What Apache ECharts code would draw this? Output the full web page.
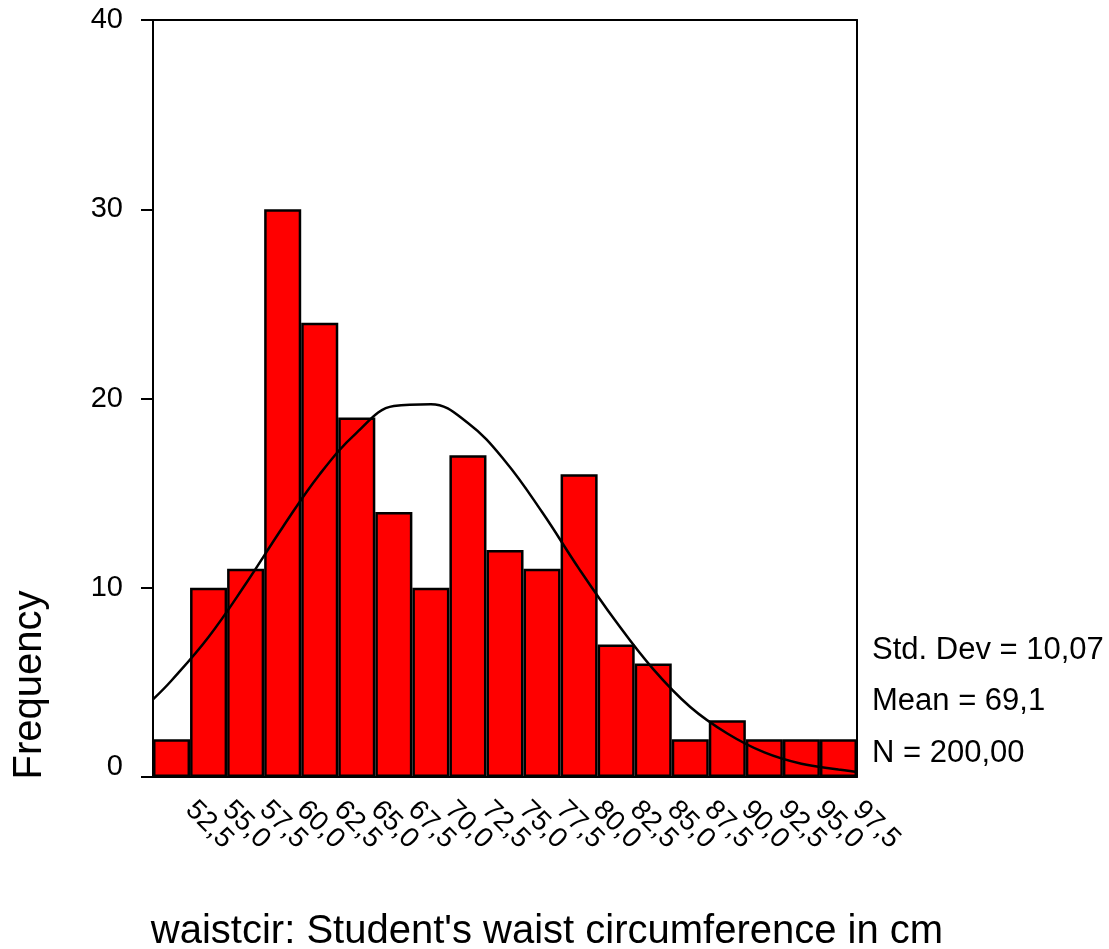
<!DOCTYPE html>
<html><head><meta charset="utf-8">
<script src="https://cdn.jsdelivr.net/npm/echarts@6/dist/echarts.min.js"></script>
<style>html,body{margin:0;padding:0;background:#fff}#c{width:1109px;height:949px}</style>
</head><body><div id="c"></div>
<script>
const categories = ['52,5','55,0','57,5','60,0','62,5','65,0','67,5','70,0','72,5','75,0','77,5','80,0','82,5','85,0','87,5','90,0','92,5','95,0','97,5'];
const frequencies = [2,10,11,30,24,19,14,10,17,12,11,16,7,6,2,3,2,2,2];
const curveX = [51.25,52.5,55,57.5,60,62.5,65,67.5,70,72.5,75,77.5,80,82.5,85,87.5,90,92.5,95,97.5,98.75];
const curveY = [4.1,5.1,7.4,10.2,13.2,16.0,18.2,19.6,19.7,18.7,16.7,14.0,11.0,8.2,5.7,3.7,2.3,1.3,0.7,0.4,0.26];
const yTicks = [0,10,20,30,40];
const statsLines = ['Std. Dev = 10,07','Mean = 69,1','N = 200,00'];
const xTitle = "waistcir: Student's waist circumference in cm";
const yTitle = 'Frequency';

const chart = echarts.init(document.getElementById('c'));
const font = 'Liberation Sans, Arial, sans-serif';
chart.setOption({
  animation:false,
  grid:{left:153,right:252,top:20,bottom:172},
  xAxis:[{
    type:'category', data:categories, position:'bottom',
    axisLine:{lineStyle:{color:'#000',width:2}},
    axisTick:{alignWithLabel:true,length:10,lineStyle:{color:'#000',width:2}},
    axisLabel:{rotate:-45,color:'#000',fontFamily:font,fontSize:28,margin:30,interval:0,align:'left',
      verticalAlign:'bottom',padding:[0,0,0,12]},
    splitLine:{show:false}
  },{
    type:'value', min:51.25, max:98.75, position:'top',
    axisLine:{show:true,onZero:false,lineStyle:{color:'#000',width:2}},
    axisTick:{show:false}, axisLabel:{show:false}, splitLine:{show:false}
  }],
  yAxis:[{
    type:'value', min:yTicks[0], max:yTicks[yTicks.length-1], interval:10,
    axisLine:{show:true,lineStyle:{color:'#000',width:2}},
    axisTick:{show:true,length:12,lineStyle:{color:'#000',width:2}},
    axisLabel:{color:'#000',fontFamily:font,fontSize:29,margin:30,
      formatter:v=> v===0 ? '{z|0}' : String(v),
      rich:{z:{fontFamily:font,fontSize:29,color:'#000',padding:[0,0,20,0]}}},
    splitLine:{show:false}
  },{
    type:'value', min:0, max:40, position:'right',
    axisLine:{show:true,lineStyle:{color:'#000',width:2}},
    axisTick:{show:false}, axisLabel:{show:false}, splitLine:{show:false}
  }],
  series:[{
    type:'bar', xAxisIndex:0, yAxisIndex:0, data:frequencies,
    barWidth:'100%', barGap:'0%', barCategoryGap:'0%',
    itemStyle:{color:'#ff0000',borderColor:'#000',borderWidth:2.5}
  },{
    type:'line', xAxisIndex:1, yAxisIndex:0, showSymbol:false, smooth:0.4,
    data:curveX.map((x,i)=>[x,curveY[i]]),
    lineStyle:{color:'#000',width:2.5}, z:5
  }],
  graphic:[
    {type:'text',x:30,y:685,rotation:Math.PI/2,style:{text:yTitle,fontFamily:font,fontSize:40,fill:'#000',textAlign:'center',textVerticalAlign:'middle'}},
    {type:'text',x:547,y:932,style:{text:xTitle,fontFamily:font,fontSize:40,fill:'#000',textAlign:'center',textVerticalAlign:'middle'}},
    {type:'text',x:872,y:650,style:{text:statsLines[0],fontFamily:font,fontSize:31,fill:'#000',textAlign:'left',textVerticalAlign:'middle'}},
    {type:'text',x:872,y:701,style:{text:statsLines[1],fontFamily:font,fontSize:31,fill:'#000',textAlign:'left',textVerticalAlign:'middle'}},
    {type:'text',x:872,y:753,style:{text:statsLines[2],fontFamily:font,fontSize:31,fill:'#000',textAlign:'left',textVerticalAlign:'middle'}}
  ]
});
</script></body></html>
